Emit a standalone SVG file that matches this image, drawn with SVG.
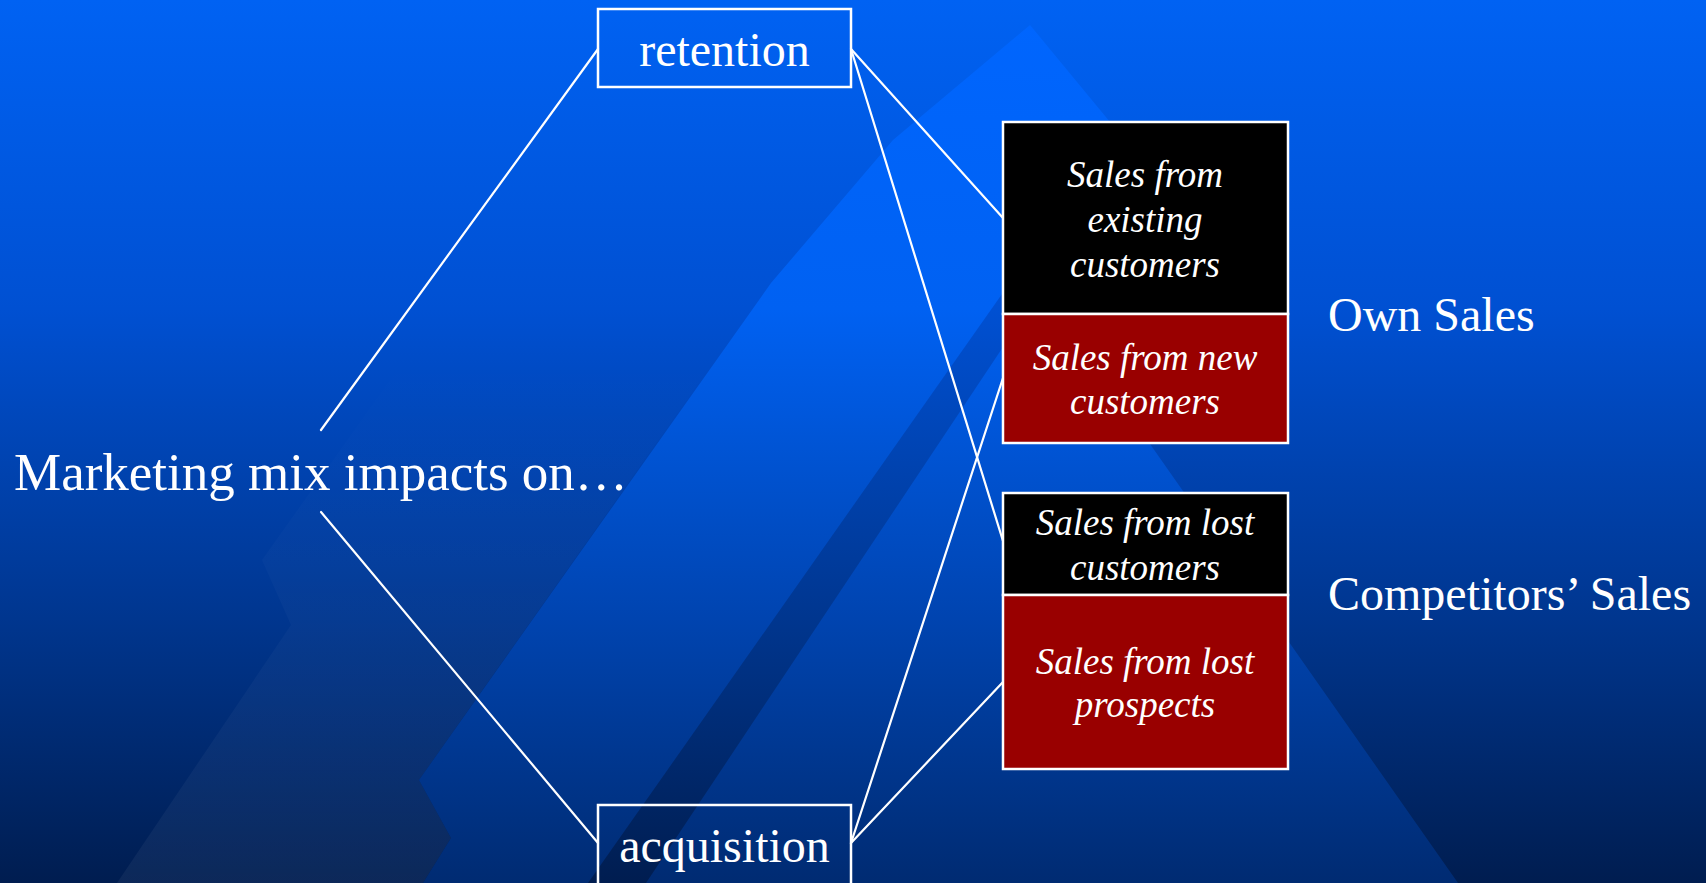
<svg xmlns="http://www.w3.org/2000/svg" width="1706" height="883" viewBox="0 0 1706 883">
  <defs>
    <linearGradient id="bgBase" gradientUnits="userSpaceOnUse" x1="0" y1="0" x2="0" y2="883">
      <stop offset="0" stop-color="#0062f3"/>
      <stop offset="0.35" stop-color="#0050d2"/>
      <stop offset="0.7" stop-color="#00368f"/>
      <stop offset="1" stop-color="#001d50"/>
    </linearGradient>
    <linearGradient id="bgBright" gradientUnits="userSpaceOnUse" x1="0" y1="0" x2="0" y2="883">
      <stop offset="0" stop-color="#0066ff"/>
      <stop offset="0.35" stop-color="#0061f2"/>
      <stop offset="0.7" stop-color="#0044b0"/>
      <stop offset="1" stop-color="#002b72"/>
    </linearGradient>
    <linearGradient id="bgFaint" gradientUnits="userSpaceOnUse" x1="0" y1="0" x2="0" y2="883">
      <stop offset="0" stop-color="#ffffff" stop-opacity="0"/>
      <stop offset="0.4" stop-color="#ffffff" stop-opacity="0"/>
      <stop offset="1" stop-color="#ffffff" stop-opacity="0.05"/>
    </linearGradient>
    <style>
      .box { stroke: #ffffff; stroke-width: 2.5; }
      .plain { fill: none; }
      .dark { fill: #000000; }
      .red { fill: #990000; }
      .link { stroke: #ffffff; stroke-width: 2.2; fill: none; stroke-linecap: round; }
      .label { font-family: "Liberation Serif", "Times New Roman", serif; fill: #ffffff; }
      .big { font-size: 48px; }
      .title { font-size: 53px; }
      .cell { font-size: 37px; font-style: italic; text-anchor: middle; }
      .mid { text-anchor: middle; }
    </style>
  </defs>

  <!-- background: gradient with diagonal bands -->
  <g id="background">
    <rect x="0" y="0" width="1706" height="883" fill="url(#bgBase)"/>
    <polygon points="117,883 291,625 262,560 660,0 1000,0 893,107 419,780 451,838 423,883" fill="url(#bgFaint)"/>
    <polygon points="423,883 451,838 419,780 771,283 893,140 1030,25 1110,122 1150,444 1458,883" fill="url(#bgBright)"/>
    <polygon points="588,883 1068,200 1101,200 646,883" fill="url(#bgBase)"/>
  </g>

  <!-- connectors -->
  <g id="connectors">
    <line class="link" x1="321" y1="430" x2="598" y2="49"/>
    <line class="link" x1="321" y1="512" x2="598" y2="843"/>
    <line class="link" x1="851" y1="49" x2="1003" y2="218"/>
    <line class="link" x1="851" y1="49" x2="1003" y2="541"/>
    <line class="link" x1="851" y1="843" x2="1003" y2="378"/>
    <line class="link" x1="851" y1="843" x2="1003" y2="682"/>
  </g>

  <g id="marketing-mix">
    <text class="label title" x="14" y="490">Marketing mix impacts on…</text>
  </g>

  <g id="retention">
    <rect class="box plain" x="598" y="9" width="253" height="78"/>
    <text class="label big mid" x="724.5" y="66">retention</text>
  </g>

  <g id="acquisition">
    <rect class="box plain" x="598" y="805" width="253" height="95"/>
    <text class="label big mid" x="724.5" y="862">acquisition</text>
  </g>

  <g id="existing-customers">
    <rect class="box dark" x="1003" y="122" width="285" height="192"/>
    <text class="label cell" x="1145" y="187">Sales from</text>
    <text class="label cell" x="1145" y="232">existing</text>
    <text class="label cell" x="1145" y="277">customers</text>
  </g>

  <g id="new-customers">
    <rect class="box red" x="1003" y="314" width="285" height="129"/>
    <text class="label cell" x="1145" y="370">Sales from new</text>
    <text class="label cell" x="1145" y="414">customers</text>
  </g>

  <g id="lost-customers">
    <rect class="box dark" x="1003" y="493" width="285" height="102"/>
    <text class="label cell" x="1145" y="535">Sales from lost</text>
    <text class="label cell" x="1145" y="580">customers</text>
  </g>

  <g id="lost-prospects">
    <rect class="box red" x="1003" y="595" width="285" height="174"/>
    <text class="label cell" x="1145" y="674">Sales from lost</text>
    <text class="label cell" x="1145" y="717">prospects</text>
  </g>

  <g id="own-sales">
    <text class="label big" x="1328" y="331">Own Sales</text>
  </g>

  <g id="competitors-sales">
    <text class="label big" x="1328" y="610">Competitors’ Sales</text>
  </g>
</svg>
